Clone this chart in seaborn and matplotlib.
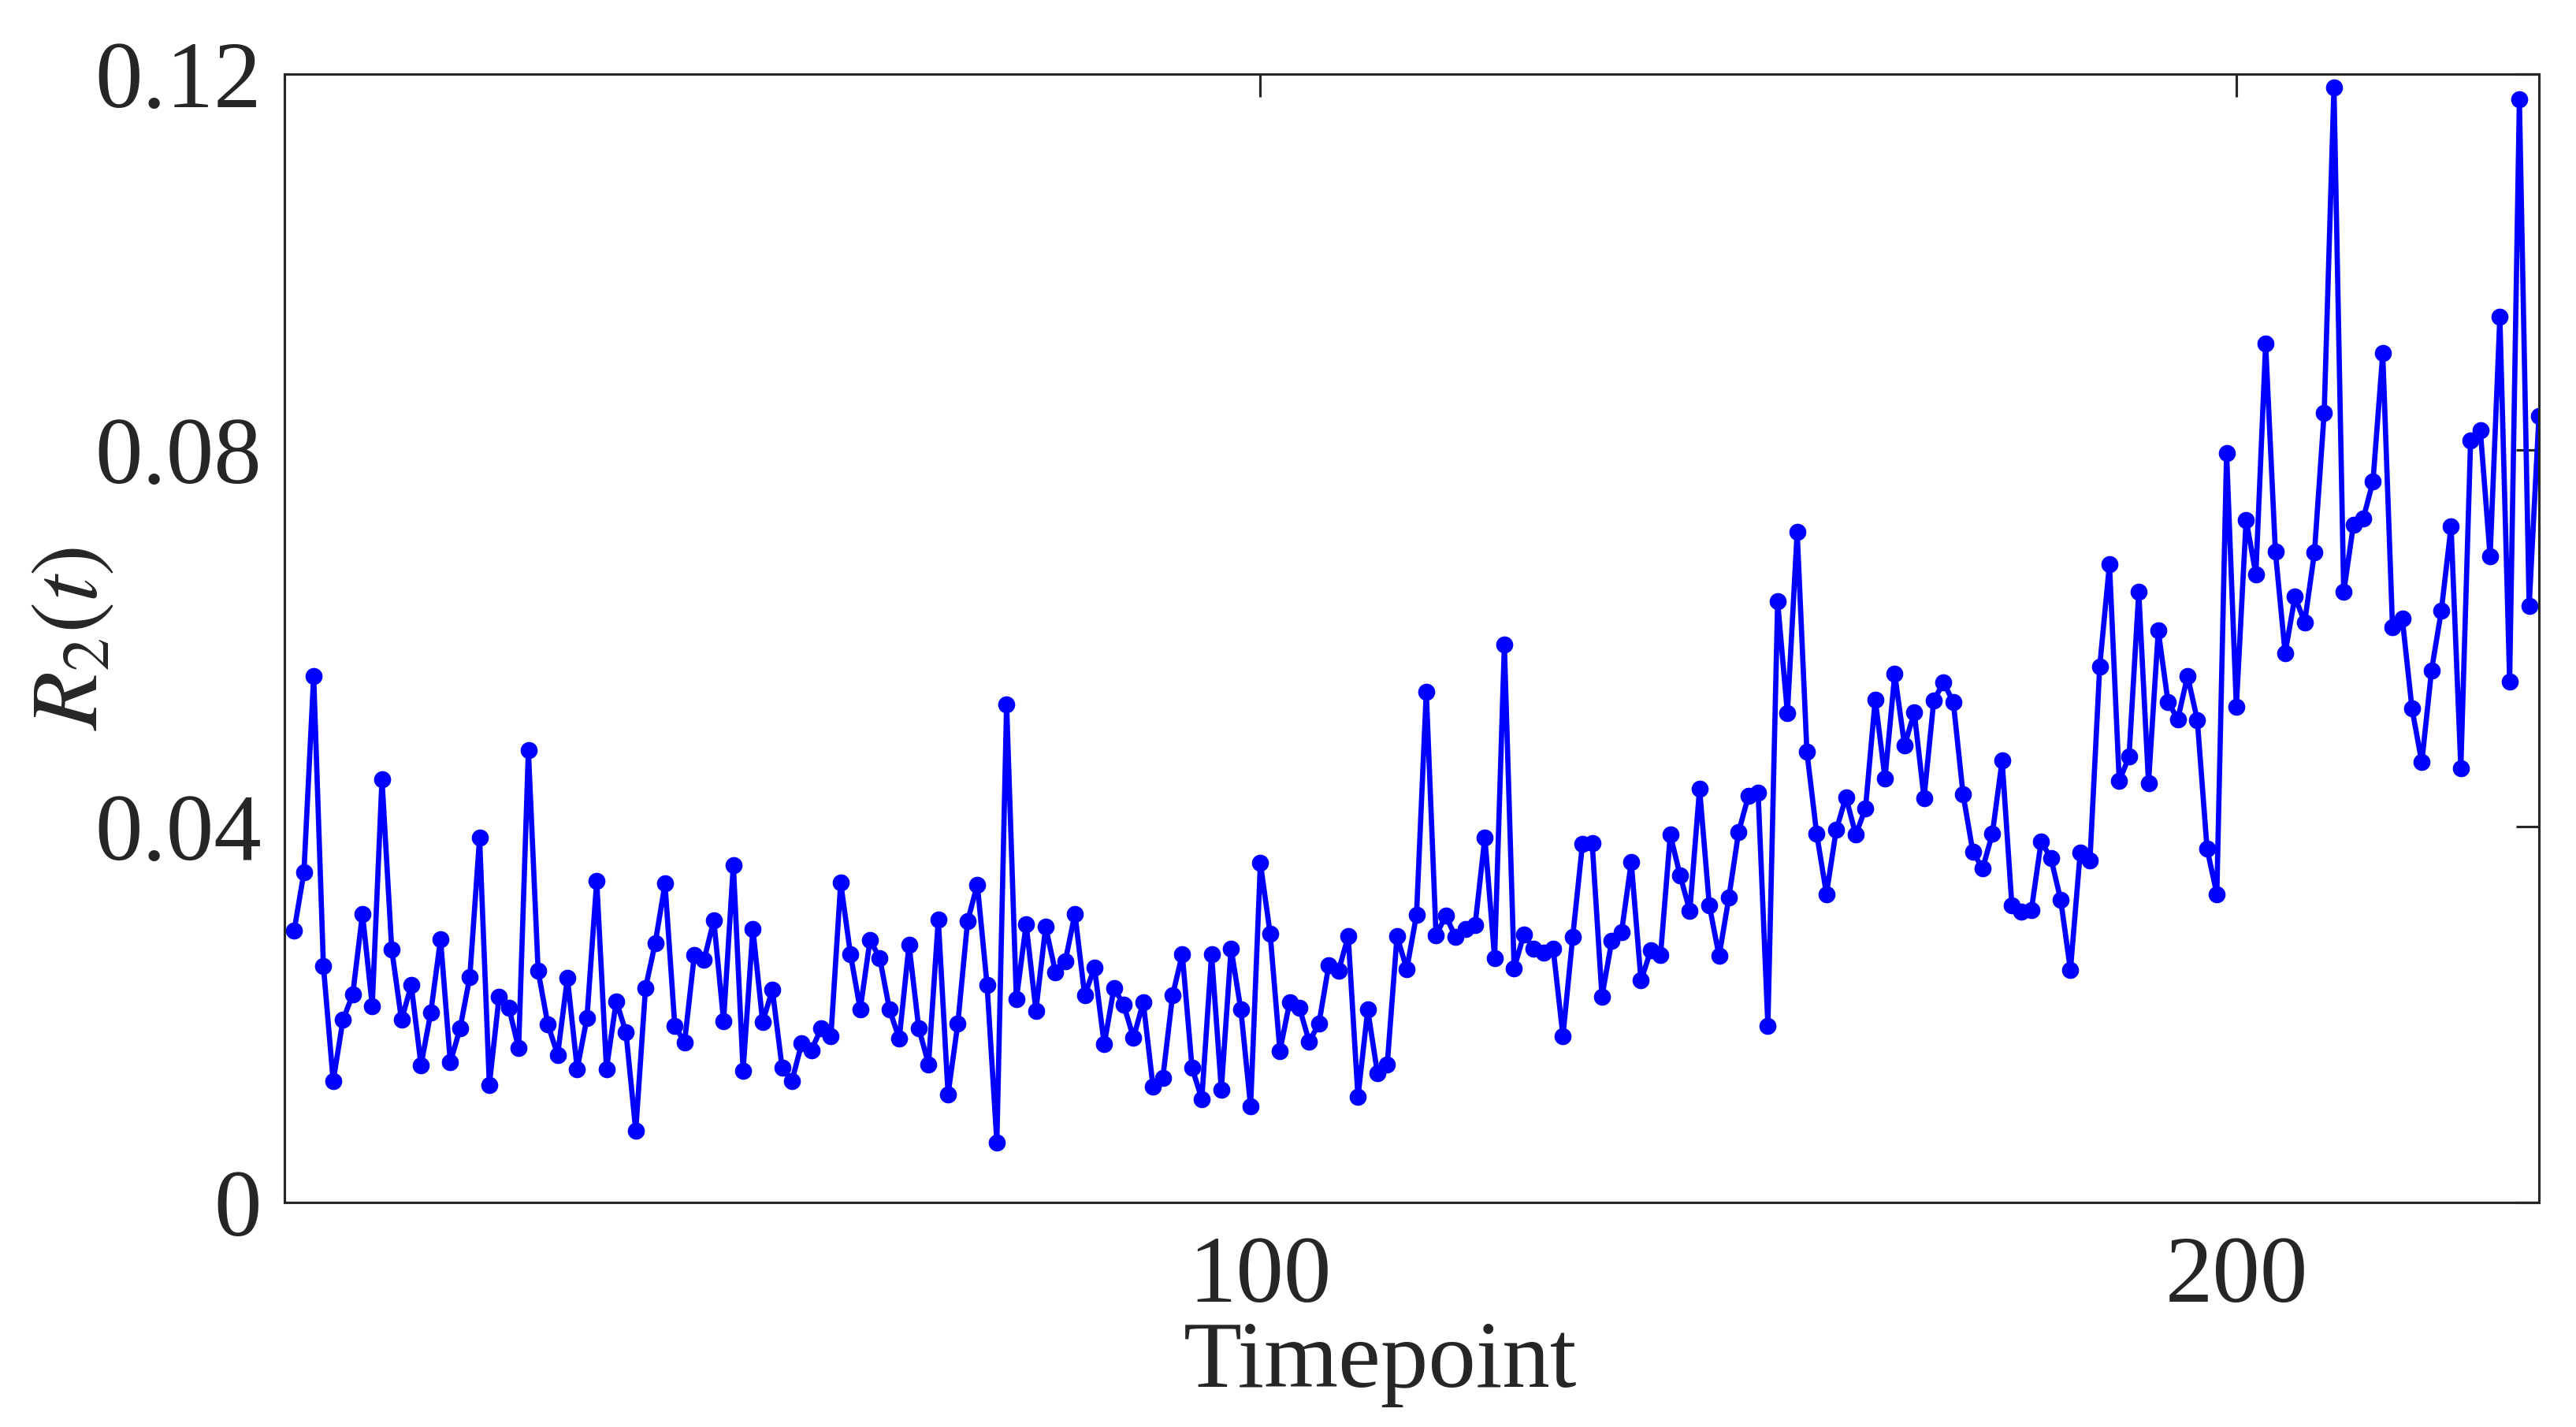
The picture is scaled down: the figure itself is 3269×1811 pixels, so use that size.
import numpy as np
import pandas as pd
import matplotlib
matplotlib.use("Agg")
import matplotlib.pyplot as plt
import seaborn as sns

# ---- data ----
timepoints = list(range(1, 232))
r2_values = [
    0.0289, 0.0351, 0.0560, 0.0251, 0.0129, 0.0194, 0.0221, 0.0307, 0.0209, 0.0450,
    0.0269, 0.0194, 0.0231, 0.0146, 0.0202, 0.0280, 0.0149, 0.0185, 0.0240, 0.0388,
    0.0125, 0.0219, 0.0207, 0.0164, 0.0481, 0.0246, 0.0189, 0.0157, 0.0239, 0.0142,
    0.0196, 0.0342, 0.0142, 0.0214, 0.0181, 0.0076, 0.0228, 0.0276, 0.0339, 0.0188,
    0.0170, 0.0263, 0.0258, 0.0300, 0.0193, 0.0359, 0.0140, 0.0291, 0.0192, 0.0226,
    0.0143, 0.0129, 0.0169, 0.0162, 0.0185, 0.0177, 0.0340, 0.0264, 0.0205, 0.0279,
    0.0260, 0.0205, 0.0174, 0.0274, 0.0185, 0.0147, 0.0301, 0.0115, 0.0190, 0.0299,
    0.0338, 0.0231, 0.0064, 0.0530, 0.0216, 0.0296, 0.0204, 0.0293, 0.0245, 0.0256,
    0.0307, 0.0220, 0.0250, 0.0168, 0.0228, 0.0210, 0.0175, 0.0213, 0.0123, 0.0132,
    0.0220, 0.0264, 0.0143, 0.0110, 0.0264, 0.0120, 0.0270, 0.0205, 0.0102, 0.0361,
    0.0286, 0.0161, 0.0213, 0.0207, 0.0171, 0.0190, 0.0252, 0.0246, 0.0283, 0.0112,
    0.0205, 0.0137, 0.0147, 0.0283, 0.0248, 0.0306, 0.0543, 0.0284, 0.0305, 0.0282,
    0.0291, 0.0295, 0.0388, 0.0260, 0.0593, 0.0249, 0.0285, 0.0270, 0.0266, 0.0270,
    0.0177, 0.0282, 0.0381, 0.0382, 0.0219, 0.0278, 0.0287, 0.0362, 0.0236, 0.0268,
    0.0263, 0.0391, 0.0348, 0.0310, 0.0440, 0.0316, 0.0262, 0.0324, 0.0394, 0.0432,
    0.0436, 0.0188, 0.0639, 0.0520, 0.0713, 0.0479, 0.0392, 0.0328, 0.0396, 0.0431,
    0.0391, 0.0419, 0.0535, 0.0451, 0.0562, 0.0486, 0.0521, 0.0430, 0.0534, 0.0553,
    0.0532, 0.0434, 0.0373, 0.0355, 0.0392, 0.0470, 0.0316, 0.0309, 0.0311, 0.0384,
    0.0366, 0.0322, 0.0247, 0.0372, 0.0364, 0.0570, 0.0679, 0.0448, 0.0474, 0.0649,
    0.0446, 0.0608, 0.0532, 0.0514, 0.0560, 0.0513, 0.0376, 0.0328, 0.0797, 0.0527,
    0.0726, 0.0668, 0.0913, 0.0692, 0.0584, 0.0644, 0.0617, 0.0691, 0.0840, 0.1186,
    0.0649, 0.0721, 0.0727, 0.0767, 0.0903, 0.0612, 0.0621, 0.0525, 0.0468, 0.0566,
    0.0629, 0.0719, 0.0462, 0.0810, 0.0821, 0.0687, 0.0942, 0.0554, 0.1173, 0.0634,
    0.0836,
]
x_ticks = [100, 200]
x_tick_labels = ["100", "200"]
y_ticks = [0, 0.04, 0.08, 0.12]
y_tick_labels = ["0", "0.04", "0.08", "0.12"]
x_label = "Timepoint"
y_label = r"$R_2(t)$"

df = pd.DataFrame({"t": timepoints, "r2": r2_values})

sns.set_theme(style="white")
plt.rcParams["font.family"] = ["Liberation Serif", "DejaVu Serif"]
plt.rcParams["mathtext.fontset"] = "stix"

axis_col = "#262626"
fs = 29

fig = plt.figure(figsize=(3269 / 300, 1811 / 300), dpi=300)
ax = fig.add_axes([0.1104, 0.1574, 0.8752, 0.7907])

sns.lineplot(data=df, x="t", y="r2", ax=ax, estimator=None, color="#0000ff",
             linewidth=1.6, marker="o", markersize=5.2, markeredgewidth=0,
             markerfacecolor="#0000ff")

ax.set_xlim(0, 231)
ax.set_ylim(0, 0.12)
ax.set_xticks(x_ticks)
ax.set_xticklabels(x_tick_labels)
ax.set_yticks(y_ticks)
ax.set_yticklabels(y_tick_labels)

ax.tick_params(axis="both", direction="in", length=7, width=0.75,
               top=True, right=True, labelsize=fs, colors=axis_col,
               labelcolor=axis_col)
ax.tick_params(axis="x", pad=10)
ax.tick_params(axis="y", pad=7)
for sp in ax.spines.values():
    sp.set_visible(True)
    sp.set_color(axis_col)
    sp.set_linewidth(0.75)

ax.set_xlabel(x_label, fontsize=fs, color=axis_col)
ax.set_ylabel(y_label, fontsize=fs, color=axis_col)
ax.xaxis.set_label_coords(0.486, -0.105)
ax.yaxis.set_label_coords(-0.074, 0.5)
ax.grid(False)

fig.savefig("out.png", dpi=300, facecolor="white")
